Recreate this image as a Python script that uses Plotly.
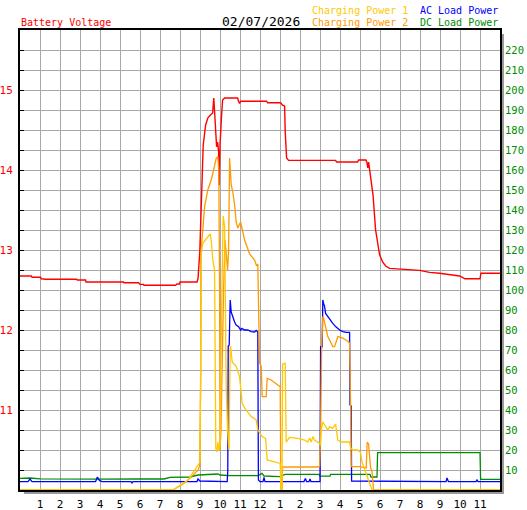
import plotly.graph_objects as go

# ---------------------------------------------------------
# DATA (hours since midnight, volts / watts)
# ---------------------------------------------------------
DATE_TEXT = "02/07/2026"
HOUR_TICKS = list(range(1, 24))
HOUR_LABELS = [str(h) for h in range(1, 12)] + ["12"] + [str(h) for h in range(1, 12)]
VOLT_TICKS = [11, 12, 13, 14, 15]
POWER_TICKS = list(range(10, 230, 10))

volt_hours = [0, 0.57, 0.6, 1.03, 1.06, 1.3, 2.83, 2.86, 3.28, 3.3, 5.18, 5.2, 5.93, 6.0, 6.18, 6.2,
              7.78, 7.85, 7.98, 8.0, 8.85, 8.9, 8.99, 9.05, 9.16, 9.28, 9.39, 9.53, 9.63, 9.69, 9.74,
              9.78, 9.83, 9.88, 9.93, 9.96, 10.0, 10.08, 10.13, 10.23, 10.88, 10.93, 10.98, 11.03,
              12.33, 12.38, 13.03, 13.13, 13.23, 13.26, 13.33, 13.43, 15.78, 15.83, 16.88, 16.93,
              17.3, 17.35, 17.39, 17.43, 17.48, 17.61, 17.65, 17.78, 17.98, 18.13, 18.28, 18.48,
              18.98, 19.98, 20.48, 20.98, 21.98, 22.25, 23.0, 23.05, 24.0]
volt_values = [12.675, 12.675, 12.66, 12.66, 12.64, 12.635, 12.635, 12.625, 12.625, 12.60, 12.60,
               12.59, 12.59, 12.57, 12.57, 12.56, 12.56, 12.575, 12.575, 12.60, 12.60, 12.64, 12.98,
               13.52, 14.31, 14.56, 14.65, 14.69, 14.71, 14.90, 14.66, 14.40, 14.29, 14.35, 14.23,
               13.81, 14.31, 14.69, 14.875, 14.90, 14.90, 14.86, 14.83, 14.86, 14.86, 14.84, 14.84,
               14.81, 14.80, 14.48, 14.15, 14.12, 14.12, 14.10, 14.10, 14.125, 14.125, 14.09, 14.025,
               14.10, 14.0, 13.81, 13.69, 13.25, 12.94, 12.85, 12.80, 12.77, 12.76, 12.745, 12.72,
               12.71, 12.675, 12.64, 12.64, 12.71, 12.71]

cp1_hours = [0, 7.65, 8.4, 8.9, 9.0, 9.02, 9.06, 9.14, 9.39, 9.51, 9.56, 9.64, 9.73, 9.76, 9.79,
             9.84, 9.89, 9.94, 10.0, 10.08, 10.16, 10.23, 10.28, 10.31, 10.38, 10.45, 10.51, 10.53,
             10.61, 10.81, 10.98, 11.03, 11.11, 11.23, 11.56, 11.81, 11.89, 12.11, 12.28, 12.36,
             12.89, 13.01, 13.04, 13.1, 13.13, 13.26, 13.31, 13.48, 13.89, 14.23, 14.39, 14.48,
             14.56, 14.64, 14.73, 14.89, 14.98, 15.03, 15.06, 15.14, 15.23, 15.39, 15.48, 15.64,
             15.78, 15.84, 15.89, 16.06, 16.48, 16.53, 16.64, 16.89, 17.03, 17.1, 17.25, 17.4,
             17.6, 24]
cp1_values = [0, 0, 5, 12, 14, 40, 118, 123.5, 126.7, 128, 125, 115, 110, 60, 21, 19, 24, 20, 22,
              90, 137, 132, 96, 52, 30, 20, 72, 71.7, 64, 61.7, 56.7, 50, 43.3, 41, 36.7, 35, 30,
              26.7, 25.8, 15, 13.3, 13.3, 0, 0, 63, 63.3, 24, 26.3, 25.8, 25, 24, 26, 24, 26.7,
              25, 24, 23.3, 22.5, 30, 34, 32.5, 30, 31.7, 30.8, 33, 28.3, 25, 24, 24, 21, 20, 20,
              18.7, 14, 10, 5, 0, 0]

cp2_hours = [0, 7.65, 8.3, 8.91, 8.98, 9.01, 9.02, 9.04, 9.06, 9.14, 9.23, 9.39, 9.56, 9.68, 9.81,
             9.89, 9.94, 9.98, 10.0, 10.05, 10.1, 10.18, 10.25, 10.33, 10.38, 10.43, 10.48, 10.56,
             10.64, 10.73, 10.81, 10.89, 11.03, 11.14, 11.23, 11.48, 11.73, 11.83, 11.89, 11.98,
             12.06, 12.11, 12.31, 12.36, 12.56, 12.89, 13.01, 13.04, 13.1, 13.13, 14.89, 14.98,
             15.03, 15.08, 15.14, 15.18, 15.39, 15.64, 15.73, 15.89, 16.14, 16.44, 16.48, 16.53,
             16.56, 16.98, 17.31, 17.36, 17.43, 17.48, 17.53, 17.59, 17.68, 24]
cp2_values = [0, 0, 4, 10, 12, 30, 52, 60, 120, 131.7, 141.7, 150, 155, 160, 165.8, 166.7, 160,
              100, 20, 30, 60, 100, 125, 115, 110, 120, 166, 152.5, 149, 142.5, 134, 131, 134, 129,
              125, 118, 115, 112, 113, 63.5, 62, 46.7, 46.7, 55.8, 55, 52.5, 51.7, 0, 0, 11.5,
              11.5, 12, 28, 70, 86.7, 86, 76.7, 71.7, 71.7, 76.7, 76, 74, 73.3, 42.5, 11.7, 11.7,
              11, 24, 23, 16.7, 11, 10, 0, 0]

ac_hours = [0, 0.4, 0.5, 0.6, 3.78, 3.87, 3.97, 4.1, 5.55, 5.6, 5.65, 8.85, 8.9, 9.0, 10.36,
            10.39, 10.41, 10.46, 10.51, 10.56, 10.73, 10.81, 10.93, 11.03, 11.09, 11.23, 11.39,
            11.56, 11.73, 11.81, 11.89, 11.92, 12.0, 12.15, 12.2, 12.25, 14.2, 14.27, 14.33,
            14.45, 14.5, 14.55, 15.0, 15.03, 15.11, 15.14, 15.18, 15.23, 15.28, 15.39, 15.48,
            15.56, 15.64, 15.78, 15.89, 15.98, 16.14, 16.31, 16.48, 16.5, 16.56, 16.58, 21.3,
            21.35, 21.42, 22.8, 22.85, 22.9, 24]
ac_values = [4.2, 4.2, 5.5, 4.2, 4.2, 6.5, 4.8, 4.2, 4.2, 3.5, 4.2, 4.2, 5.5, 4.5, 4.2, 10, 72,
             72.5, 95, 89, 84, 82.5, 81.7, 80, 80.8, 80, 80, 79.2, 79, 79.8, 79, 5, 4.2, 4.2,
             6.3, 4.2, 4.2, 5.8, 4.2, 4.2, 5.5, 4.2, 4.2, 71.7, 71.7, 95, 93.3, 91.7, 88.3, 86.7,
             85.8, 84.2, 83.3, 81.7, 80.8, 80, 79.2, 78.8, 78.8, 42.5, 42, 4.5, 4.2, 6, 4.2,
             4.2, 5, 4.2, 4.2]

dc_hours = [0, 0.5, 1.0, 2.0, 4.0, 6.0, 7.2, 7.5, 8.5, 8.9, 9.9, 10.0, 10.5, 11.9, 12.1, 12.2,
            13.0, 13.25, 14.95, 15.0, 15.5, 15.53, 17.5, 17.55, 17.85, 17.88, 23.0, 23.03, 24]
dc_values = [5.8, 6.0, 5.6, 5.5, 5.4, 5.5, 5.5, 6.3, 6.5, 7.5, 8, 7.5, 7.2, 7.2, 8.3, 7.0, 6.7,
             7.8, 7.8, 6.9, 6.9, 7.8, 7.8, 6.5, 6.5, 18.7, 18.7, 5.3, 5.3]

# ---------------------------------------------------------
# STYLE
# ---------------------------------------------------------
FONT = "DejaVu Sans Mono"
RED = "#ff0000"
GOLD = "#ffc800"
ORANGE = "#ff9900"
BLUE = "#0000ff"
GREEN = "#008c00"
GRID = "#a8a8a8"

# plot area on pixels x 20..500, y 30..490 of a 527x510 page
W, H = 527, 510
L, R, T, B = 20, 27, 30, 20
PW, PH = W - L - R, H - T - B


def px_x(x):
    # page pixel -> paper fraction
    return (x - L) / PW


def px_y(y):
    return (H - B - y) / PH


fig = go.Figure()

fig.add_trace(go.Scatter(x=dc_hours, y=dc_values, yaxis="y2", mode="lines",
                         line=dict(color=GREEN, width=1.3)))
fig.add_trace(go.Scatter(x=ac_hours, y=ac_values, yaxis="y2", mode="lines",
                         line=dict(color=BLUE, width=1.3)))
fig.add_trace(go.Scatter(x=cp2_hours, y=cp2_values, yaxis="y2", mode="lines",
                         line=dict(color=ORANGE, width=1.3)))
fig.add_trace(go.Scatter(x=cp1_hours, y=cp1_values, yaxis="y2", mode="lines",
                         line=dict(color=GOLD, width=1.3)))
fig.add_trace(go.Scatter(x=volt_hours, y=volt_values, yaxis="y", mode="lines",
                         line=dict(color=RED, width=1.4)))

volt_grid = [10 + 0.25 * i for i in range(1, 23)]
volt_text = [str(int(v)) if v in VOLT_TICKS else "" for v in volt_grid]

fig.update_layout(
    width=W, height=H,
    margin=dict(l=L, r=R, t=T, b=B),
    paper_bgcolor="white", plot_bgcolor="white",
    showlegend=False,
    font=dict(family=FONT, size=11, color="black"),
    xaxis=dict(range=[0, 24], tickvals=HOUR_TICKS, ticktext=HOUR_LABELS, automargin=False,
               showgrid=True, gridcolor=GRID, gridwidth=1, zeroline=False,
               showline=True, linecolor="black", linewidth=2, mirror=True,
               ticks="", ticklabelstandoff=3, tickfont=dict(size=11, color="black")),
    yaxis=dict(range=[10, 15.75], tickvals=volt_grid, ticktext=volt_text, automargin=False,
               showgrid=True, gridcolor=GRID, gridwidth=1, zeroline=False,
               showline=True, linecolor="black", linewidth=2, mirror=True,
               ticks="inside", ticklen=4, tickcolor="black", ticklabelstandoff=3,
               tickfont=dict(size=11, color=RED)),
    yaxis2=dict(range=[0, 230], tickvals=POWER_TICKS, overlaying="y", side="right",
                automargin=False, showgrid=False, zeroline=False, showline=False, ticks="",
                ticklabelstandoff=4, tickfont=dict(size=10.5, color=GREEN)),
)

# drop shadow on the right and bottom of the frame
fig.add_shape(type="rect", xref="paper", yref="paper", x0=px_x(501), x1=px_x(504),
              y0=px_y(494), y1=px_y(34), fillcolor="#9a9a9a", line=dict(width=0), layer="below")
fig.add_shape(type="rect", xref="paper", yref="paper", x0=px_x(24), x1=px_x(504),
              y0=px_y(494), y1=px_y(491), fillcolor="#9a9a9a", line=dict(width=0), layer="below")

# header texts
fig.add_annotation(text="Battery Voltage", xref="paper", yref="paper", x=px_x(19), y=px_y(23),
                   xanchor="left", yanchor="middle", showarrow=False,
                   font=dict(size=10, color=RED))
fig.add_annotation(text=DATE_TEXT, xref="paper", yref="paper", x=px_x(261), y=px_y(21),
                   xanchor="center", yanchor="middle", showarrow=False,
                   font=dict(size=13, color="black"))
header = [("Charging Power 1", GOLD, 310, 11), ("Charging Power 2", ORANGE, 310, 23),
          ("AC Load Power", BLUE, 418, 11), ("DC Load Power", GREEN, 418, 23)]
for text, color, hx, hy in header:
    fig.add_annotation(text=text, xref="paper", yref="paper", x=px_x(hx), y=px_y(hy),
                       xanchor="left", yanchor="middle", showarrow=False,
                       font=dict(size=10, color=color))

# the default page body margin would shift the 527x510 figure by 8px
fig.write_html("out.html", config={"displayModeBar": False},
               post_script="document.body.style.margin='0px';")
